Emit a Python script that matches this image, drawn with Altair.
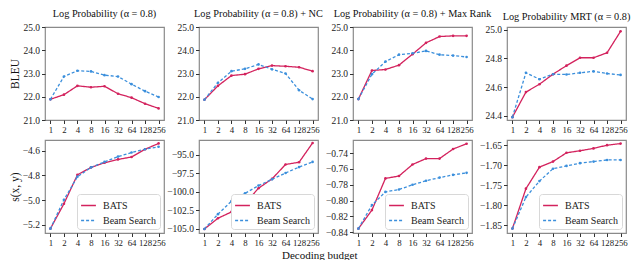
import altair as alt
import pandas as pd

budgets = [1, 2, 4, 8, 16, 32, 64, 128, 256]
methods = ["BATS", "Beam Search"]

titles = [
    "Log Probability (α = 0.8)",
    "Log Probability (α = 0.8) + NC",
    "Log Probability (α = 0.8) + Max Rank",
    "Log Probability MRT (α = 0.8)",
]

# Top row: BLEU
bleu_lp_bats = [21.89, 22.09, 22.47, 22.41, 22.45, 22.13, 21.96, 21.70, 21.50]
bleu_lp_beam = [21.89, 22.87, 23.12, 23.09, 22.93, 22.87, 22.54, 22.24, 21.99]
bleu_nc_bats = [21.87, 22.47, 22.91, 22.97, 23.20, 23.34, 23.31, 23.27, 23.10]
bleu_nc_beam = [21.87, 22.60, 23.10, 23.20, 23.39, 23.18, 23.00, 22.28, 21.90]
bleu_mr_bats = [21.90, 23.13, 23.17, 23.36, 23.83, 24.32, 24.59, 24.62, 24.62]
bleu_mr_beam = [21.90, 22.97, 23.51, 23.81, 23.87, 23.97, 23.81, 23.77, 23.71]
bleu_mrt_bats = [24.39, 24.565, 24.62, 24.69, 24.75, 24.805, 24.805, 24.84, 24.99]
bleu_mrt_beam = [24.39, 24.70, 24.655, 24.69, 24.688, 24.70, 24.71, 24.695, 24.685]

# Bottom row: s(x, y)
s_lp_bats = [-5.233, -5.03, -4.795, -4.735, -4.697, -4.67, -4.65, -4.587, -4.54]
s_lp_beam = [-5.233, -4.998, -4.81, -4.735, -4.69, -4.647, -4.614, -4.587, -4.567]
s_nc_bats = [-105.0, -103.55, -102.7, -101.6, -99.5, -98.25, -96.3, -96.0, -93.4]
s_nc_beam = [-105.0, -103.0, -101.25, -100.2, -99.15, -98.3, -97.45, -96.65, -95.95]
s_mr_bats = [-0.8353, -0.8119, -0.772, -0.769, -0.7545, -0.747, -0.747, -0.735, -0.7283]
s_mr_beam = [-0.8353, -0.8056, -0.789, -0.786, -0.780, -0.775, -0.771, -0.7675, -0.765]
s_mrt_bats = [-1.859, -1.759, -1.705, -1.691, -1.669, -1.664, -1.658, -1.650, -1.646]
s_mrt_beam = [-1.859, -1.780, -1.740, -1.709, -1.702, -1.695, -1.691, -1.687, -1.687]

y_ticks = [
    [21, 22, 23, 24, 25], [21, 22, 23, 24, 25], [21, 22, 23, 24, 25],
    [24.4, 24.6, 24.8, 25.0],
    [-5.2, -5.0, -4.8, -4.6],
    [-105, -102.5, -100, -97.5, -95],
    [-0.84, -0.82, -0.80, -0.78, -0.76, -0.74],
    [-1.85, -1.80, -1.75, -1.70, -1.65],
]
y_domains = [
    [21, 25], [21, 25], [21, 25], [24.37, 25.02],
    [-5.268, -4.512], [-105.54, -93.0], [-0.8408, -0.7236], [-1.870, -1.637],
]
y_formats = [".1f", ".1f", ".1f", ".1f", ".1f", ".1f", ".2f", ".2f"]

series = [
    (bleu_lp_bats, bleu_lp_beam), (bleu_nc_bats, bleu_nc_beam),
    (bleu_mr_bats, bleu_mr_beam), (bleu_mrt_bats, bleu_mrt_beam),
    (s_lp_bats, s_lp_beam), (s_nc_bats, s_nc_beam),
    (s_mr_bats, s_mr_beam), (s_mrt_bats, s_mrt_beam),
]

RED = "#d3225d"
BLUE = "#3b8fdc"
FONT = "Liberation Serif, Times New Roman, serif"
W, H = 119, 93

charts = []
for i, (bats, beam) in enumerate(series):
    rows = []
    for k, b in enumerate(budgets):
        rows.append({"idx": k, "budget": b, "value": bats[k], "method": "BATS"})
        rows.append({"idx": k, "budget": b, "value": beam[k], "method": "Beam Search"})
    df = pd.DataFrame(rows)
    top = i < 4
    col0 = i % 4 == 0
    ytitle = ("BLEU" if top else "s(x, y)") if col0 else None
    yaxis_kwargs = dict(
        values=y_ticks[i], format=y_formats[i], grid=False, domain=False,
        tickSize=3.5, labelPadding=2, titlePadding=3, title=ytitle,
        labelFontSize=9.5,
    )
    if col0:
        yaxis_kwargs.update(minExtent=22, maxExtent=22)
    if top:
        legend = None
    else:
        legend = alt.Legend(
            title=None, orient="bottom-right", offset=4,
            strokeColor="#d8d8d8", fillColor="white", padding=3,
            cornerRadius=3, symbolType="stroke", symbolSize=220,
            symbolStrokeWidth=1.5, labelFontSize=10, labelFont=FONT,
            rowPadding=1, labelColor="#222", labelOffset=6,
        )
    ch = alt.Chart(df).mark_line(
        strokeWidth=1.3,
        point=alt.OverlayMarkDef(size=7, filled=True),
    ).encode(
        x=alt.X("idx:Q", scale=alt.Scale(domain=[-0.4, 8.4], nice=False),
                axis=alt.Axis(values=list(range(9)), labelExpr="pow(2, datum.value)",
                              title=None, grid=False, domain=False, tickSize=3.5,
                              labelPadding=2, labelFlush=False, labelOverlap=False,
                              labelFontSize=8.8)),
        y=alt.Y("value:Q", scale=alt.Scale(domain=y_domains[i], nice=False, zero=False),
                axis=alt.Axis(**yaxis_kwargs)),
        color=alt.Color("method:N", scale=alt.Scale(domain=methods, range=[RED, BLUE]),
                        legend=legend),
        strokeDash=alt.StrokeDash("method:N",
                                  scale=alt.Scale(domain=methods, range=[[1, 0], [3, 2]]),
                                  legend=legend),
        order="idx:Q",
    ).properties(width=W, height=H)
    if top:
        ch = ch.properties(title=alt.TitleParams(titles[i], fontSize=10.3, font=FONT,
                                                 fontWeight="normal", offset=3, color="#111"))
    charts.append(ch)

chart = alt.concat(*charts, columns=4, spacing={"row": 20, "column": 35},
                   bounds="flush").resolve_legend(
    color="independent", strokeDash="independent"
).properties(
    title=alt.TitleParams("Decoding budget", orient="bottom", anchor="middle",
                          fontSize=11, font=FONT, fontWeight="normal", offset=2,
                          color="#111"),
    padding=0,
).configure_view(
    stroke="#8a8a8a", strokeWidth=1.2
).configure_axis(
    labelFont=FONT, titleFont=FONT, titleFontSize=11.5,
    titleFontWeight="normal", labelColor="#222", titleColor="#111", tickColor="#333",
)

chart.save("out.html", embed_options={"renderer": "svg", "actions": False})
